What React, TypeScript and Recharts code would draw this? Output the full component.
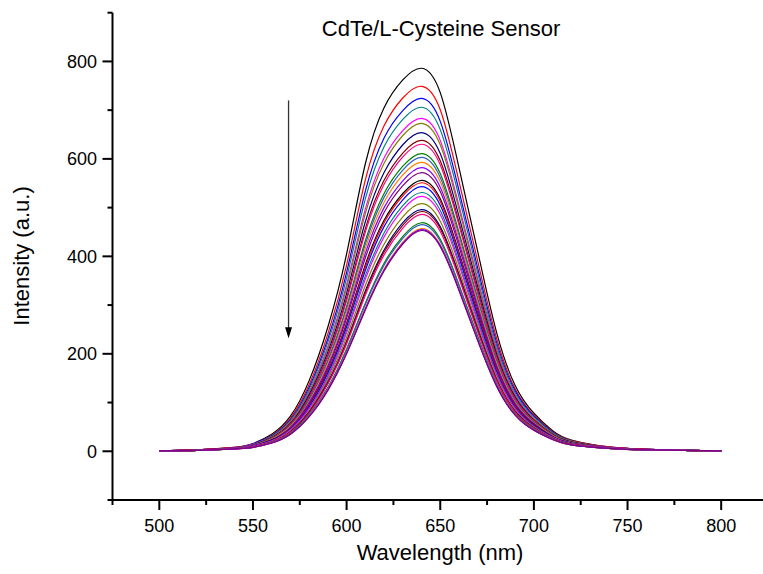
import React from 'react';
import {
  LineChart,
  Line,
  XAxis,
  YAxis,
  ReferenceLine,
  ReferenceDot
} from 'recharts';

// wavelength grid (nm)
const wavelengths = [500, 520, 540, 550, 560, 570, 580, 590, 600, 610, 620, 630, 640, 650, 660, 670, 680, 690, 700, 710, 720, 740, 760, 780, 800];

// emission spectra, top curve first (intensity)
const curve01 = [1, 3, 8, 16, 35, 72, 145, 255, 405, 590, 705, 762, 786, 736, 582, 410, 245, 135, 78, 42, 23, 9, 4, 2, 1];
const curve02 = [1, 3, 8, 15, 33, 68, 137, 241, 382, 557, 668, 725, 749, 701, 554, 390, 233, 128, 74, 40, 22, 9, 4, 2, 1];
const curve03 = [1, 3, 7, 15, 32, 65, 131, 231, 367, 534, 643, 699, 724, 677, 535, 376, 224, 124, 72, 39, 21, 8, 4, 2, 1];
const curve04 = [1, 3, 7, 14, 31, 63, 127, 224, 356, 518, 625, 681, 706, 660, 522, 366, 218, 120, 70, 38, 21, 8, 4, 2, 1];
const curve05 = [1, 3, 7, 14, 29, 61, 122, 215, 342, 497, 602, 658, 683, 638, 504, 354, 211, 116, 67, 36, 20, 8, 4, 2, 1];
const curve06 = [1, 3, 7, 13, 29, 60, 120, 211, 336, 488, 591, 648, 673, 629, 497, 348, 207, 114, 66, 36, 20, 8, 4, 2, 1];
const curve07 = [1, 3, 7, 13, 28, 57, 116, 204, 324, 471, 572, 629, 654, 611, 482, 338, 201, 111, 64, 35, 19, 8, 4, 2, 1];
const curve08 = [1, 3, 7, 12, 27, 56, 112, 197, 314, 457, 556, 612, 638, 596, 470, 329, 196, 108, 63, 34, 19, 8, 4, 2, 1];
const curve09 = [1, 3, 7, 12, 27, 55, 110, 194, 309, 450, 548, 604, 630, 588, 464, 324, 193, 107, 62, 34, 18, 8, 4, 2, 1];
const curve10 = [1, 2, 6, 12, 26, 53, 106, 187, 297, 432, 529, 585, 611, 570, 449, 314, 187, 103, 60, 33, 18, 7, 3, 2, 1];
const curve11 = [1, 2, 6, 12, 25, 52, 104, 184, 292, 425, 521, 577, 603, 562, 443, 309, 184, 102, 59, 32, 18, 7, 3, 2, 1];
const curve12 = [1, 2, 6, 11, 25, 51, 102, 180, 286, 416, 511, 567, 593, 553, 436, 304, 181, 100, 58, 32, 17, 7, 3, 2, 1];
const curve13 = [1, 2, 6, 11, 24, 49, 100, 175, 279, 406, 500, 555, 582, 542, 428, 298, 177, 98, 57, 31, 17, 7, 3, 2, 1];
const curve14 = [1, 2, 6, 11, 23, 48, 97, 171, 273, 397, 490, 545, 572, 533, 420, 292, 174, 96, 56, 30, 17, 7, 3, 2, 1];
const curve15 = [1, 2, 6, 10, 23, 46, 94, 165, 263, 383, 474, 529, 556, 518, 408, 284, 168, 93, 54, 30, 16, 7, 3, 2, 1];
const curve16 = [1, 2, 6, 10, 22, 46, 93, 163, 260, 378, 469, 524, 551, 513, 404, 281, 167, 92, 53, 29, 16, 7, 3, 2, 1];
const curve17 = [1, 2, 6, 10, 22, 45, 91, 160, 255, 371, 461, 516, 543, 505, 398, 276, 164, 90, 52, 29, 16, 7, 3, 2, 1];
const curve18 = [1, 2, 6, 10, 21, 44, 88, 155, 248, 360, 448, 504, 531, 494, 389, 270, 160, 88, 51, 28, 15, 7, 3, 2, 1];
const curve19 = [1, 2, 6, 10, 21, 43, 87, 152, 243, 353, 440, 496, 523, 486, 383, 265, 157, 87, 50, 28, 15, 7, 3, 2, 1];
const curve20 = [1, 2, 5, 9, 20, 41, 83, 147, 234, 340, 425, 481, 508, 472, 372, 257, 152, 84, 49, 27, 15, 6, 3, 2, 1];
const curve21 = [1, 2, 5, 9, 19, 40, 81, 142, 226, 329, 413, 469, 496, 461, 363, 251, 148, 82, 48, 26, 14, 6, 3, 2, 1];
const curve22 = [1, 2, 5, 9, 19, 39, 80, 140, 224, 325, 409, 464, 492, 457, 360, 248, 147, 81, 47, 26, 14, 6, 3, 2, 1];
const curve23 = [1, 2, 5, 9, 19, 39, 78, 138, 220, 320, 403, 458, 486, 451, 355, 245, 145, 80, 47, 26, 14, 6, 3, 2, 1];
const curve24 = [1, 2, 5, 8, 18, 37, 75, 131, 210, 304, 386, 441, 469, 435, 342, 236, 139, 77, 45, 25, 13, 6, 3, 2, 1];
const curve25 = [1, 2, 5, 8, 18, 36, 74, 130, 207, 301, 382, 437, 465, 431, 339, 234, 138, 76, 44, 25, 13, 6, 3, 2, 1];
const curve26 = [1, 2, 5, 8, 17, 35, 72, 127, 202, 294, 374, 429, 457, 424, 333, 229, 135, 75, 43, 24, 13, 6, 3, 2, 1];
const curve27 = [1, 2, 5, 8, 17, 35, 71, 126, 201, 292, 372, 427, 455, 422, 332, 228, 135, 74, 43, 24, 13, 6, 3, 2, 1];
const curve28 = [1, 2, 5, 8, 17, 35, 71, 125, 200, 290, 370, 425, 453, 420, 330, 227, 134, 74, 43, 24, 13, 6, 3, 2, 1];

const curves = [
  curve01, curve02, curve03, curve04, curve05, curve06, curve07,
  curve08, curve09, curve10, curve11, curve12, curve13, curve14,
  curve15, curve16, curve17, curve18, curve19, curve20, curve21,
  curve22, curve23, curve24, curve25, curve26, curve27, curve28
];

// Origin-like colour cycle
const colors = [
  '#000000', '#ff0000', '#0000ff', '#008080', '#ff00ff', '#808000', '#000080',
  '#800000', '#ff0080', '#008000', '#3060c0', '#ff8000', '#8000ff', '#800080'
];

const xTicks = [475, 500, 525, 550, 575, 600, 625, 650, 675, 700, 725, 750, 775, 800, 825];
const yTicks = [-100, 0, 100, 200, 300, 400, 500, 600, 700, 800, 900];

// arrow annotation (data coords)
const arrowX = 569;
const arrowTop = 720;
const arrowTip = 232;

const chartTitle = 'CdTe/L-Cysteine Sensor';
const xTitle = 'Wavelength (nm)';
const yTitle = 'Intensity (a.u.)';

const data = wavelengths.map((nm, i) => {
  const row: any = { nm };
  curves.forEach((c, k) => { row['s' + k] = c[i]; });
  return row;
});

const FONT = '"Liberation Sans", Arial, Helvetica, sans-serif';

const XTick = (props: any) => {
  const { x, y, payload } = props;
  const major = payload.value % 50 === 0;
  return (
    <g>
      <line x1={x} y1={y} x2={x} y2={y + (major ? 10 : 5)} stroke="#000" strokeWidth={2} />
      {major && (
        <text x={x} y={y + 32} textAnchor="middle" fontSize={18} fontFamily={FONT} fill="#000">
          {payload.value}
        </text>
      )}
    </g>
  );
};

const YTick = (props: any) => {
  const { x, y, payload } = props;
  const major = payload.value % 200 === 0;
  return (
    <g>
      <line x1={x} y1={y} x2={x - (major ? 10 : 5)} y2={y} stroke="#000" strokeWidth={2} />
      {major && (
        <text x={x - 15.5} y={y + 6.4} textAnchor="end" fontSize={18} fontFamily={FONT} fill="#000">
          {payload.value}
        </text>
      )}
    </g>
  );
};

const ArrowHead = (props: any) => {
  const { cx, cy } = props;
  if (cx == null || cy == null) return null;
  return <path d={`M${cx},${cy} L${cx - 3.5},${cy - 11} L${cx + 3.5},${cy - 11} Z`} fill="#000" />;
};

export default function App() {
  return (
    <div style={{ position: 'absolute', left: 0, top: 0, width: 763, height: 574, overflow: 'hidden', background: '#fff' }}>
      <LineChart
        width={768}
        height={574}
        data={data}
        margin={{ top: 12.7, right: 0, bottom: 14, left: 12.5 }}
      >
        <XAxis
          dataKey="nm"
          type="number"
          domain={[475, 825]}
          ticks={xTicks}
          interval={0}
          height={60}
          tickSize={0}
          tickMargin={0}
          tick={<XTick />}
          axisLine={{ stroke: '#000', strokeWidth: 2 }}
          allowDataOverflow
        />
        <YAxis
          type="number"
          domain={[-100, 900]}
          ticks={yTicks}
          interval={0}
          width={100}
          tickSize={0}
          tickMargin={0}
          tick={<YTick />}
          axisLine={{ stroke: '#000', strokeWidth: 2 }}
          allowDataOverflow
        />
        {curves.map((_, k) => (
          <Line
            key={k}
            type="natural"
            dataKey={'s' + k}
            stroke={colors[k % colors.length]}
            strokeWidth={1.2}
            dot={false}
            activeDot={false}
            isAnimationActive={false}
          />
        ))}
        <ReferenceLine
          segment={[{ x: arrowX, y: arrowTop }, { x: arrowX, y: arrowTip + 6 }]}
          stroke="#333"
          strokeWidth={1.3}
        />
        <ReferenceDot x={arrowX} y={arrowTip} r={3} shape={<ArrowHead />} />
        <text x={441} y={36} textAnchor="middle" fontSize={22} fontFamily={FONT} fill="#000">
          {chartTitle}
        </text>
        <text x={440} y={560} textAnchor="middle" fontSize={22} fontFamily={FONT} fill="#000">
          {xTitle}
        </text>
        <text
          x={29}
          y={256}
          textAnchor="middle"
          fontSize={22}
          fontFamily={FONT}
          fill="#000"
          transform="rotate(-90, 29, 256)"
        >
          {yTitle}
        </text>
      </LineChart>
    </div>
  );
}
